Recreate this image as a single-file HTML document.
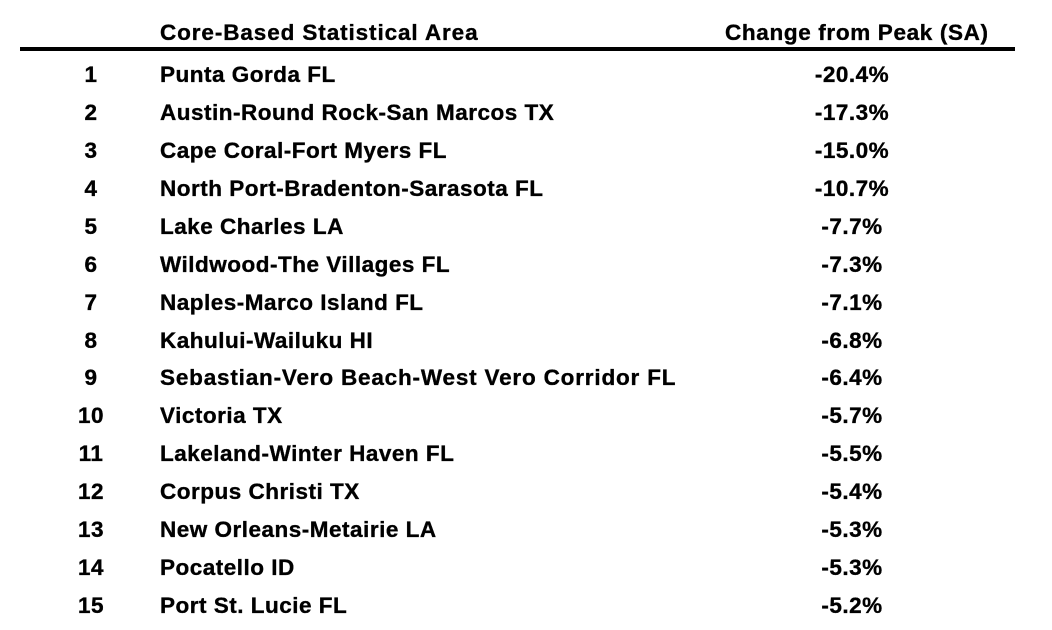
<!DOCTYPE html>
<html><head><meta charset="utf-8"><style>
html,body{margin:0;padding:0;background:#fff;}
svg{display:block;}
text{font-family:"Liberation Sans",Arial,sans-serif;font-weight:bold;font-size:22.5px;fill:#000;stroke:#000;stroke-width:0.35px;}
</style></head><body>
<svg width="1052" height="630" xmlns="http://www.w3.org/2000/svg">
<text x="160" y="40" letter-spacing="0.4" textLength="318">Core-Based Statistical Area</text>
<text x="725" y="40" textLength="263">Change from Peak (SA)</text>
<rect x="20" y="47" width="995" height="4" fill="#000"/>
<g letter-spacing="0.5">
<text x="91" y="82" text-anchor="middle">1</text><text x="160" y="82">Punta Gorda FL</text><text x="852" y="82" text-anchor="middle">-20.4%</text>
<text x="91" y="120" text-anchor="middle">2</text><text x="160" y="120">Austin-Round Rock-San Marcos TX</text><text x="852" y="120" text-anchor="middle">-17.3%</text>
<text x="91" y="158" text-anchor="middle">3</text><text x="160" y="158">Cape Coral-Fort Myers FL</text><text x="852" y="158" text-anchor="middle">-15.0%</text>
<text x="91" y="196" text-anchor="middle">4</text><text x="160" y="196">North Port-Bradenton-Sarasota FL</text><text x="852" y="196" text-anchor="middle">-10.7%</text>
<text x="91" y="234" text-anchor="middle">5</text><text x="160" y="234">Lake Charles LA</text><text x="852" y="234" text-anchor="middle">-7.7%</text>
<text x="91" y="272" text-anchor="middle">6</text><text x="160" y="272">Wildwood-The Villages FL</text><text x="852" y="272" text-anchor="middle">-7.3%</text>
<text x="91" y="310" text-anchor="middle">7</text><text x="160" y="310">Naples-Marco Island FL</text><text x="852" y="310" text-anchor="middle">-7.1%</text>
<text x="91" y="348" text-anchor="middle">8</text><text x="160" y="348">Kahului-Wailuku HI</text><text x="852" y="348" text-anchor="middle">-6.8%</text>
<text x="91" y="385" text-anchor="middle">9</text><text x="160" y="385" textLength="516">Sebastian-Vero Beach-West Vero Corridor FL</text><text x="852" y="385" text-anchor="middle">-6.4%</text>
<text x="91" y="423" text-anchor="middle">10</text><text x="160" y="423">Victoria TX</text><text x="852" y="423" text-anchor="middle">-5.7%</text>
<text x="91" y="461" text-anchor="middle">11</text><text x="160" y="461">Lakeland-Winter Haven FL</text><text x="852" y="461" text-anchor="middle">-5.5%</text>
<text x="91" y="499" text-anchor="middle">12</text><text x="160" y="499">Corpus Christi TX</text><text x="852" y="499" text-anchor="middle">-5.4%</text>
<text x="91" y="537" text-anchor="middle">13</text><text x="160" y="537">New Orleans-Metairie LA</text><text x="852" y="537" text-anchor="middle">-5.3%</text>
<text x="91" y="575" text-anchor="middle">14</text><text x="160" y="575">Pocatello ID</text><text x="852" y="575" text-anchor="middle">-5.3%</text>
<text x="91" y="613" text-anchor="middle">15</text><text x="160" y="613">Port St. Lucie FL</text><text x="852" y="613" text-anchor="middle">-5.2%</text>
</g>
</svg>
</body></html>
